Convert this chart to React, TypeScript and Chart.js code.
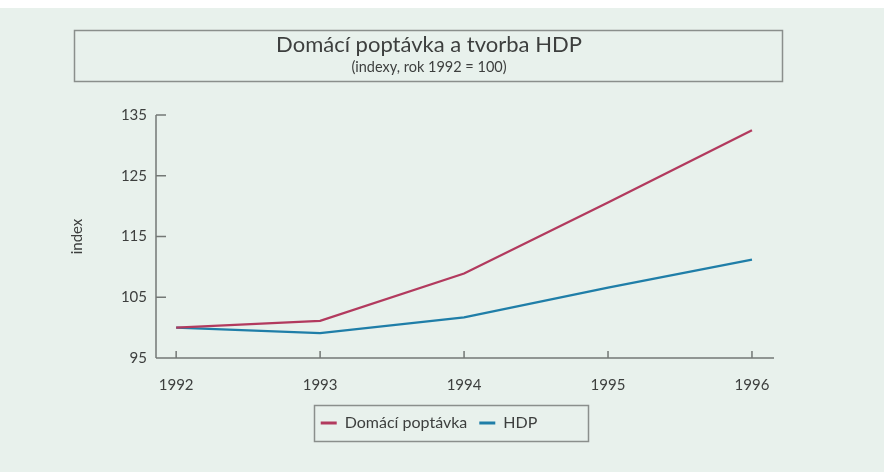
import React, { useEffect, useRef } from "react";
import { Chart, registerables } from "chart.js";

Chart.register(...registerables);

const years = [1992, 1993, 1994, 1995, 1996];
const domaciPoptavka = [100, 101.1, 108.9, 120.6, 132.5];
const hdp = [100, 99.1, 101.7, 106.6, 111.2];
const yTickValues = [95, 105, 115, 125, 135];
const seriesLabels = ["Domácí poptávka", "HDP"];
const chartTitle = "Domácí poptávka a tvorba HDP";
const chartSubtitle = "(indexy, rok 1992 = 100)";
const yAxisLabel = "index";

const FONT = "Lato, 'Open Sans', sans-serif";
const TEXT = "#3d3f3e";
const AXIS = "#737875";
const FRAME = "#8a8f8c";
const BG = "#e8f1ec";
const RED = "#b23a5e";
const BLUE = "#1f7ea8";

const decor = {
  id: "decor",
  beforeDraw(chart: any) {
    const { ctx, width, height } = chart;
    ctx.save();
    ctx.fillStyle = BG;
    ctx.fillRect(0, 0, width, height);
    ctx.fillStyle = "#ffffff";
    ctx.fillRect(0, 0, width, 8);
    ctx.strokeStyle = FRAME;
    ctx.lineWidth = 1.5;
    // title frame
    ctx.strokeRect(74.5, 30.5, 708, 51);
    // legend frame
    const lg = chart.legend;
    if (lg && lg.legendHitBoxes && lg.legendHitBoxes.length) {
      const hb = lg.legendHitBoxes;
      const first = hb[0];
      const last = hb[hb.length - 1];
      const l = first.left - 7;
      const r = last.left + last.width + 50;
      const c = first.top + first.height / 2;
      ctx.strokeRect(Math.round(l) + 0.5, Math.round(c - 18) + 0.5, Math.round(r - l), 36);
    }
    ctx.restore();
  },
  beforeDatasetsDraw(chart: any) {
    const { ctx, chartArea } = chart;
    const xs = chart.scales.x;
    const ys = chart.scales.y;
    ctx.save();
    ctx.strokeStyle = AXIS;
    ctx.lineWidth = 1.5;
    ctx.beginPath();
    ctx.moveTo(chartArea.left, chartArea.top);
    ctx.lineTo(chartArea.left, chartArea.bottom);
    ctx.moveTo(chartArea.left, chartArea.bottom);
    ctx.lineTo(chartArea.right, chartArea.bottom);
    yTickValues.forEach((v) => {
      const py = ys.getPixelForValue(v);
      ctx.moveTo(chartArea.left, py);
      ctx.lineTo(chartArea.left + 10, py);
    });
    years.forEach((v) => {
      const px = xs.getPixelForValue(v);
      ctx.moveTo(px, chartArea.bottom);
      ctx.lineTo(px, chartArea.bottom - 7);
    });
    ctx.stroke();
    ctx.restore();
  },
};

export default function App() {
  const ref = useRef<HTMLCanvasElement>(null);
  useEffect(() => {
    if (!ref.current) return;
    const chart = new Chart(ref.current, {
      type: "line",
      data: {
        datasets: [
          {
            label: seriesLabels[0],
            data: years.map((y, i) => ({ x: y, y: domaciPoptavka[i] })),
            borderColor: RED,
            backgroundColor: RED,
            borderWidth: 2.3,
            pointRadius: 0,
            tension: 0,
          },
          {
            label: seriesLabels[1],
            data: years.map((y, i) => ({ x: y, y: hdp[i] })),
            borderColor: BLUE,
            backgroundColor: BLUE,
            borderWidth: 2.3,
            pointRadius: 0,
            tension: 0,
          },
        ],
      },
      options: {
        responsive: false,
        animation: false,
        layout: { padding: { left: 0, right: 26, top: 0, bottom: 31 } },
        plugins: {
          title: {
            display: true,
            text: chartTitle,
            color: TEXT,
            font: { family: FONT, size: 22, weight: "normal" },
            padding: { top: 32, bottom: 0 },
          },
          subtitle: {
            display: true,
            text: chartSubtitle,
            color: TEXT,
            font: { family: FONT, size: 14.5, weight: "normal" },
            padding: { top: 0, bottom: 39.2 },
          },
          legend: {
            display: true,
            position: "bottom",
            labels: {
              boxWidth: 16,
              boxHeight: 3,
              padding: 12,
              color: TEXT,
              font: { family: FONT, size: 16 },
              generateLabels: (c: any) =>
                c.data.datasets.map((ds: any, i: number) => ({
                  text: ds.label,
                  fillStyle: ds.borderColor,
                  strokeStyle: ds.borderColor,
                  lineWidth: 0,
                  hidden: false,
                  datasetIndex: i,
                  fontColor: TEXT,
                })),
            },
          },
          tooltip: { enabled: false },
        },
        scales: {
          x: {
            type: "linear",
            position: "bottom",
            min: 1991.86,
            max: 1996.153,
            afterBuildTicks: (s: any) => {
              s.ticks = years.map((v) => ({ value: v }));
            },
            afterFit: (s: any) => {
              s.height = 45;
            },
            grid: { display: false, drawTicks: false },
            border: { display: false },
            ticks: {
              color: TEXT,
              font: { family: FONT, size: 15 },
              padding: 18,
              maxRotation: 0,
              autoSkip: false,
              callback: (v: any) => String(v),
            },
          },
          y: {
            type: "linear",
            position: "left",
            min: 95,
            max: 135,
            afterBuildTicks: (s: any) => {
              s.ticks = yTickValues.map((v) => ({ value: v }));
            },
            afterFit: (s: any) => {
              s.width = 156;
            },
            grid: { display: false, drawTicks: false },
            border: { display: false },
            ticks: {
              color: TEXT,
              font: { family: FONT, size: 15 },
              padding: 9,
              autoSkip: false,
              callback: (v: any) => String(v),
            },
            title: {
              display: true,
              text: yAxisLabel,
              color: TEXT,
              font: { family: FONT, size: 15 },
              padding: { top: 68, bottom: 0 },
            },
          },
          yR: {
            type: "linear",
            position: "right",
            display: true,
            afterFit: (s: any) => {
              s.width = 84;
            },
            grid: { display: false, drawTicks: false },
            border: { display: false },
            ticks: { display: false },
          },
        },
      },
      plugins: [decor],
    } as any);
    return () => chart.destroy();
  }, []);
  return (
    <div style={{ position: "absolute", left: 0, top: 0, width: 884, height: 472 }}>
      <canvas ref={ref} width={884} height={472} />
    </div>
  );
}
